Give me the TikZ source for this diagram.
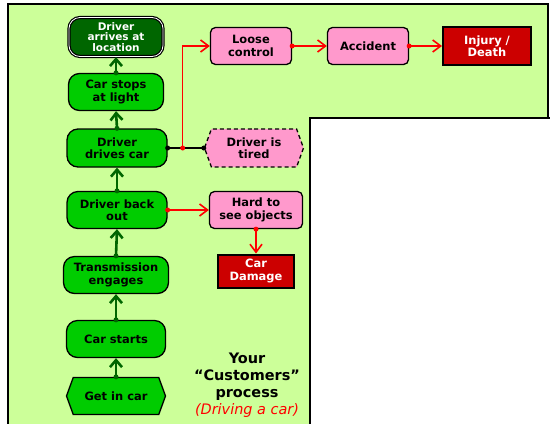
\documentclass[tikz,border=0pt]{standalone}
\usepackage{fontspec}
\setmainfont{DejaVu Sans}
\usetikzlibrary{shapes.symbols,arrows.meta,calc}
\definecolor{bggreen}{HTML}{CCFF99}
\definecolor{nodegreen}{HTML}{00CC00}
\definecolor{darkgreen}{HTML}{006600}
\definecolor{arrowgreen}{HTML}{006600}
\definecolor{pinkfill}{HTML}{FF99CC}
\definecolor{darkred}{HTML}{CC0000}
\definecolor{redline}{HTML}{FF0000}
\begin{document}
\begin{tikzpicture}[x=1bp,y=-1bp,
  lbl/.style={font=\bfseries\fontsize{11.5}{12.5}\selectfont, align=center, inner sep=0pt},
  procbox/.style={lbl, draw=black, line width=1.3bp, fill=nodegreen, rounded corners=11bp, minimum width=100bp, minimum height=37bp},
  endbox/.style={lbl, font=\bfseries\fontsize{10.5}{10.5}\selectfont, draw=black, double=white, double distance=0.8bp, line width=1.2bp, fill=darkgreen, text=white, rounded corners=11bp, minimum width=94bp, minimum height=39bp},
  hexbox/.style={lbl, draw=black, line width=1.3bp, fill=nodegreen, signal, signal to=east and west, signal pointer angle=140, minimum width=99bp, minimum height=37bp},
  riskbox/.style={lbl, draw=black, line width=1.3bp, fill=pinkfill, rounded corners=5bp, minimum width=81bp, minimum height=37bp},
  tiredbox/.style={lbl, draw=black, line width=1.3bp, dash pattern=on 4bp off 3bp, fill=pinkfill, signal, signal to=east and west, signal pointer angle=140, minimum width=99bp, minimum height=38bp},
  harmbox/.style={lbl, draw=black, line width=2bp, fill=darkred, text=white},
  grarrow/.style={draw=arrowgreen, line width=2.6bp, -{Straight Barb[length=7bp,width=12bp]}},
  redarrow/.style={draw=redline, line width=1.6bp, -{Straight Barb[length=8bp,width=12bp]}},
  blkline/.style={draw=black, line width=1.8bp},
  gdot/.style={circle, fill=arrowgreen, inner sep=0pt, minimum size=5bp},
  rdot/.style={circle, fill=redline, inner sep=0pt, minimum size=5bp},
  kdot/.style={circle, fill=black, inner sep=0pt, minimum size=5bp}
]
\useasboundingbox (0,0) rectangle (550,423);
% backgrounds
\begin{scope}
\clip (0,0) rectangle (550,423);
\draw[fill=bggreen, line width=1.2bp] (8,4) rectangle (548,440);
\draw[fill=white, line width=1.2bp] (310,118) rectangle (570,440);
\end{scope}

% main process
\node[endbox] (arrives) at (116,37) {Driver\\arrives at\\location};
\node[procbox, minimum width=95bp] (stops) at (116,92) {Car stops\\at light};
\node[procbox, minimum height=38bp] (drives) at (117,148) {Driver\\drives car};
\node[procbox] (backout) at (117,210) {Driver back\\out};
\node[procbox, minimum width=105bp] (trans) at (116,275) {Transmission\\engages};
\node[procbox, minimum width=99bp] (starts) at (116,339) {Car starts};
\node[hexbox] (getin) at (116,396) {Get in car};

% risks
\node[riskbox] (loose) at (251,46) {Loose\\control};
\node[riskbox] (accident) at (368,46) {Accident};
\node[harmbox, minimum width=88bp, minimum height=38bp] (injury) at (487,46) {Injury /\\Death};
\node[tiredbox] (tired) at (254,148) {Driver is\\tired};
\node[riskbox, minimum width=93bp] (hard) at (256,210) {Hard to\\see objects};
\node[harmbox, minimum width=76bp, minimum height=33bp] (damage) at (256,271) {Car\\Damage};

% green flow
\foreach \a/\b in {getin/starts, starts/trans, trans/backout, backout/drives, drives/stops, stops/arrives} {
  \draw[grarrow] (\a.north) -- (\b.south);
  \node[gdot] at (\a.north) {};
}

% risk flow
\draw[blkline] (drives.east) -- (tired.west);
\node[kdot] at (drives.east) {};
\node[kdot] at (tired.west) {};
\coordinate (branch) at ($(drives.east)+(15,0)$);
\draw[redarrow] (branch) |- (loose.west);
\node[rdot] at (branch) {};
\draw[redarrow] (loose.east) -- (accident.west);
\node[rdot] at (loose.east) {};
\draw[redarrow] (accident.east) -- (injury.west);
\node[rdot] at (accident.east) {};
\draw[redarrow] (backout.east) -- (hard.west);
\node[rdot] at (backout.east) {};
\draw[redarrow] (hard.south) -- (damage.north);
\node[rdot] at (hard.south) {};

% caption
\node[font=\bfseries\fontsize{14.5}{17}\selectfont, align=center, inner sep=0pt] (caption) at (247,385)
  {Your\\“Customers”\\process\\{\color{redline}\mdseries\itshape (Driving a car)}};
\end{tikzpicture}
\end{document}
